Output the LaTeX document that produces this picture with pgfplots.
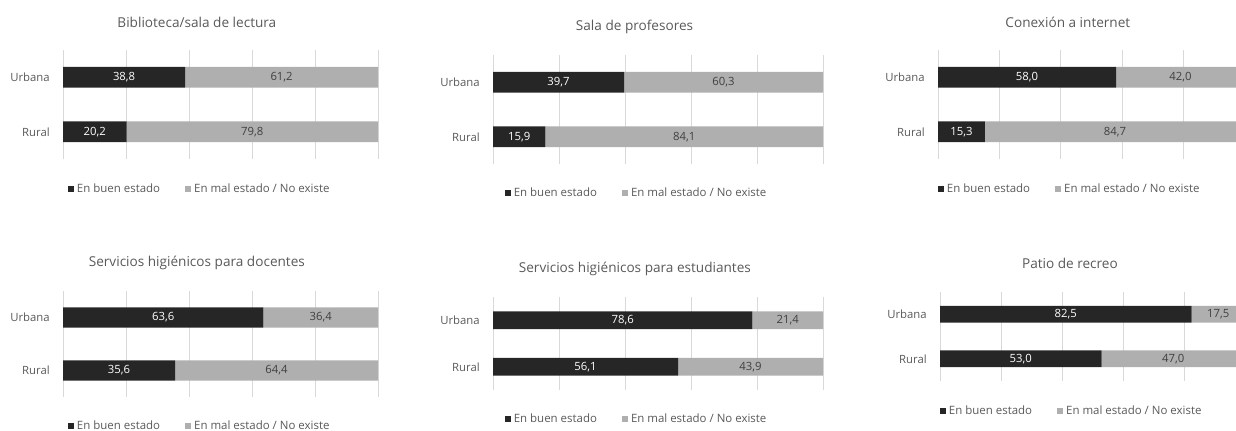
\documentclass[border=0pt]{standalone}
\usepackage{pgfplots}
\pgfplotsset{compat=1.18}
\usepackage{fontspec}
\setmainfont{Open Sans}
\definecolor{dark}{HTML}{262626}
\definecolor{light}{HTML}{AFAFAF}
\definecolor{txt}{HTML}{595959}
\definecolor{gridc}{HTML}{D9D9D9}
\definecolor{lbl}{HTML}{404040}
\pgfplotsset{
 panel/.style={
  xbar stacked, scale only axis, xmin=0, xmax=100, ymin=-0.5, ymax=1.5,
  bar width=0.38,
  ytick={0,1}, yticklabels={Rural,Urbana},
  xtick={0,20,40,60,80,100}, xticklabels={},
  xmajorgrids, major grid style={draw=gridc, line width=0.75pt},
  axis line style={draw=none}, major tick length=0pt,
  tick style={draw=none},
  y tick label style={font=\fontsize{8.5}{10}\selectfont, text=txt, inner sep=0pt, xshift=-9.75pt},
  title style={font=\fontsize{10.2}{12}\selectfont, text=txt, anchor=center, yshift=-6.5pt},
  legend cell align=left,
  legend style={draw=none, fill=none, anchor=west, font=\fontsize{8.6}{10}\selectfont, text=txt, legend columns=2, inner sep=0pt, /tikz/every even column/.append style={column sep=17pt}},
  clip=false,
 },
 dk/.style={fill=dark, draw=none, legend image code/.code={\fill[##1] (0pt,-2.25pt) rectangle (4.5pt,2.25pt);}},
 lt/.style={fill=light, draw=none, legend image code/.code={\fill[##1] (0pt,-2.25pt) rectangle (4.5pt,2.25pt);}},
 lbls/.style={scale only axis, hide axis, xmin=0, xmax=100, ymin=-0.5, ymax=1.5, clip=false, anchor=south west},
 lw/.style={sharp plot, draw=none, mark=none, nodes near coords, point meta=explicit symbolic, every node near coord/.style={anchor=center, font=\fontsize{8.5}{10}\selectfont, text=white}},
 ld/.style={sharp plot, draw=none, mark=none, nodes near coords, point meta=explicit symbolic, every node near coord/.style={anchor=center, font=\fontsize{8.5}{10}\selectfont, text=lbl}},
}
\begin{document}
\begin{tikzpicture}
\path[use as bounding box, clip] (0pt,0pt) rectangle (927pt,-322.5pt);
% Panel 1
\begin{axis}[panel, at={(47.25pt,-119.25pt)}, anchor=south west, width=236.25pt, height=81.75pt,
  title={Biblioteca/sala de lectura}, title style={at={(0.425,1.257)}},
  legend style={at={(0.016,-0.275)}}]
\addplot[dk] coordinates {(38.8,1) (20.2,0)};
\addplot[lt] coordinates {(61.2,1) (79.8,0)};
\legend{En buen estado, En mal estado / No existe}
\end{axis}
\begin{axis}[lbls, at={(47.25pt,-119.25pt)}, width=236.25pt, height=81.75pt]
\addplot[lw] table[meta=l, row sep=\\] {x y l\\ 19.4 1 38,8\\ 10.1 0 20,2\\};
\addplot[ld] table[meta=l, row sep=\\] {x y l\\ 69.4 1 61,2\\ 60.1 0 79,8\\};
\end{axis}
% Panel 2
\begin{axis}[panel, at={(369.75pt,-123pt)}, anchor=south west, width=247.5pt, height=81.75pt,
  title={Sala de profesores}, title style={at={(0.429,1.266)}},
  legend style={at={(0.036,-0.266)}}]
\addplot[dk] coordinates {(39.7,1) (15.9,0)};
\addplot[lt] coordinates {(60.3,1) (84.1,0)};
\legend{En buen estado, En mal estado / No existe}
\end{axis}
\begin{axis}[lbls, at={(369.75pt,-123pt)}, width=247.5pt, height=81.75pt]
\addplot[lw] table[meta=l, row sep=\\] {x y l\\ 19.85 1 39,7\\ 7.95 0 15,9\\};
\addplot[ld] table[meta=l, row sep=\\] {x y l\\ 69.85 1 60,3\\ 57.95 0 84,1\\};
\end{axis}
% Panel 3
\begin{axis}[panel, at={(703.5pt,-119.25pt)}, anchor=south west, width=230.25pt, height=81.75pt,
  title={Conexión a internet}, title style={at={(0.423,1.257)}},
  legend style={at={(0,-0.275)}}]
\addplot[dk] coordinates {(58.0,1) (15.3,0)};
\addplot[lt] coordinates {(42.0,1) (84.7,0)};
\legend{En buen estado, En mal estado / No existe}
\end{axis}
\begin{axis}[lbls, at={(703.5pt,-119.25pt)}, width=230.25pt, height=81.75pt]
\addplot[lw] table[meta=l, row sep=\\] {x y l\\ 29 1 58,0\\ 7.65 0 15,3\\};
\addplot[ld] table[meta=l, row sep=\\] {x y l\\ 79 1 42,0\\ 57.65 0 84,7\\};
\end{axis}
% Panel 4
\begin{axis}[panel, at={(47.25pt,-297.75pt)}, anchor=south west, width=236.25pt, height=79.5pt,
  title={Servicios higiénicos para docentes}, title style={at={(0.425,1.274)}},
  legend style={at={(0.016,-0.274)}}]
\addplot[dk] coordinates {(63.6,1) (35.6,0)};
\addplot[lt] coordinates {(36.4,1) (64.4,0)};
\legend{En buen estado, En mal estado / No existe}
\end{axis}
\begin{axis}[lbls, at={(47.25pt,-297.75pt)}, width=236.25pt, height=79.5pt]
\addplot[lw] table[meta=l, row sep=\\] {x y l\\ 31.8 1 63,6\\ 17.8 0 35,6\\};
\addplot[ld] table[meta=l, row sep=\\] {x y l\\ 81.8 1 36,4\\ 67.8 0 64,4\\};
\end{axis}
% Panel 5
\begin{axis}[panel, at={(369.75pt,-292.5pt)}, anchor=south west, width=247.5pt, height=69.75pt,
  title={Servicios higiénicos para estudiantes}, title style={at={(0.430,1.312)}},
  legend style={at={(0.036,-0.312)}}]
\addplot[dk] coordinates {(78.6,1) (56.1,0)};
\addplot[lt] coordinates {(21.4,1) (43.9,0)};
\legend{En buen estado, En mal estado / No existe}
\end{axis}
\begin{axis}[lbls, at={(369.75pt,-292.5pt)}, width=247.5pt, height=69.75pt]
\addplot[lw] table[meta=l, row sep=\\] {x y l\\ 39.3 1 78,6\\ 28.05 0 56,1\\};
\addplot[ld] table[meta=l, row sep=\\] {x y l\\ 89.3 1 21,4\\ 78.05 0 43,9\\};
\end{axis}
% Panel 6
\begin{axis}[panel, at={(705pt,-285.75pt)}, anchor=south west, width=228.75pt, height=66.75pt,
  title={Patio de recreo}, title style={at={(0.426,1.326)}},
  legend style={at={(0,-0.337)}}]
\addplot[dk] coordinates {(82.5,1) (53.0,0)};
\addplot[lt] coordinates {(17.5,1) (47.0,0)};
\legend{En buen estado, En mal estado / No existe}
\end{axis}
\begin{axis}[lbls, at={(705pt,-285.75pt)}, width=228.75pt, height=66.75pt]
\addplot[lw] table[meta=l, row sep=\\] {x y l\\ 41.25 1 82,5\\ 26.5 0 53,0\\};
\addplot[ld] table[meta=l, row sep=\\] {x y l\\ 91.25 1 17,5\\ 76.5 0 47,0\\};
\end{axis}
\end{tikzpicture}
\end{document}
